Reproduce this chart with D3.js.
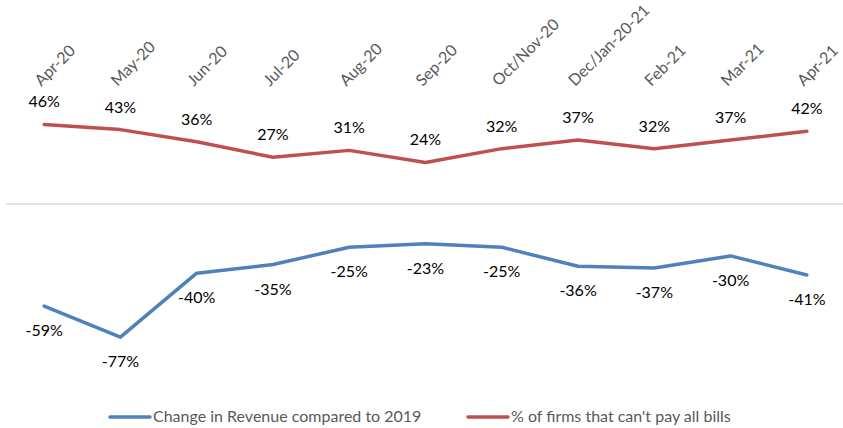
<!DOCTYPE html>
<html>
<head>
<meta charset="utf-8">
<script src="https://cdn.jsdelivr.net/npm/d3@7"></script>
<style>
  html, body { margin: 0; padding: 0; background: #fff; }
  svg { display: block; }
  text { font-family: Lato, "Open Sans", sans-serif; }
</style>
</head>
<body>
<svg id="chart" width="843" height="428"></svg>
<script>
const categories = ["Apr-20","May-20","Jun-20","Jul-20","Aug-20","Sep-20","Oct/Nov-20","Dec/Jan-20-21","Feb-21","Mar-21","Apr-21"];
const revenueChange = [-59,-77,-40,-35,-25,-23,-25,-36,-37,-30,-41];
const cantPayBills = [46,43,36,27,31,24,32,37,32,37,42];
const seriesNames = ["Change in Revenue compared to 2019", "% of firms that can't pay all bills"];
const seriesColors = ["#4F81BD", "#C0504D"];

const svg = d3.select("#chart");
const x = d3.scaleBand().domain(categories).range([6, 845]);
const y = d3.scaleLinear().domain([-100, 100]).range([377, 31]);
const cx = d => x(d) + x.bandwidth() / 2;

// zero gridline
svg.append("line")
  .attr("x1", 6).attr("x2", 843)
  .attr("y1", y(0)).attr("y2", y(0))
  .attr("stroke", "#d9d9d9").attr("stroke-width", 1.5);

// category labels (axis at top)
svg.append("g").selectAll("text").data(categories).join("text")
  .attr("transform", d => `translate(${cx(d) - 3},${87}) rotate(-45)`)
  .attr("text-anchor", "start")
  .attr("font-size", 16)
  .attr("fill", "#595959")
  .text(d => d);

const line = d3.line().x((d, i) => cx(categories[i])).y(d => y(d));

const series = [
  { values: revenueChange, color: seriesColors[0], dy: 30 },
  { values: cantPayBills, color: seriesColors[1], dy: -17 }
];

series.forEach(s => {
  svg.append("path")
    .datum(s.values)
    .attr("d", line)
    .attr("fill", "none")
    .attr("stroke", s.color)
    .attr("stroke-width", 3.5)
    .attr("stroke-linejoin", "round")
    .attr("stroke-linecap", "round");
  svg.append("g").selectAll("text").data(s.values).join("text")
    .attr("x", (d, i) => cx(categories[i]))
    .attr("y", d => y(d) + s.dy)
    .attr("text-anchor", "middle")
    .attr("font-size", 16)
    .attr("fill", "#000")
    .text(d => d + "%");
});

// legend
const legendItems = [
  { name: seriesNames[0], color: seriesColors[0], x: 110 },
  { name: seriesNames[1], color: seriesColors[1], x: 468 }
];
const lg = svg.append("g");
legendItems.forEach(it => {
  lg.append("line")
    .attr("x1", it.x).attr("x2", it.x + 40)
    .attr("y1", 417).attr("y2", 417)
    .attr("stroke", it.color).attr("stroke-width", 3.5)
    .attr("stroke-linecap", "round");
  lg.append("text")
    .attr("x", it.x + 43).attr("y", 422)
    .attr("font-size", 16)
    .attr("fill", "#595959")
    .text(it.name);
});
</script>
</body>
</html>
